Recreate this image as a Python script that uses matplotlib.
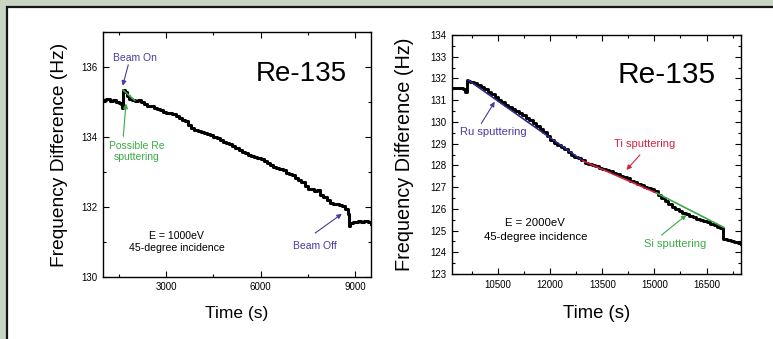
import matplotlib.pyplot as plt
from matplotlib.patches import Rectangle
from matplotlib.ticker import MultipleLocator

# run at 1000 eV
t1 = [1000, 1100, 1200, 1300, 1400, 1500, 1560, 1600, 1620, 1680, 1750, 1820,
      1900, 2000, 2100, 2200, 2300, 2400, 2500, 2600, 2700, 2800, 2900, 3000,
      3100, 3200, 3300, 3400, 3500, 3600, 3700, 3800, 3900, 4000, 4100, 4200,
      4300, 4400, 4500, 4600, 4700, 4800, 4900, 5000, 5100, 5200, 5300, 5400,
      5500, 5600, 5700, 5800, 5900, 6000, 6100, 6200, 6300, 6400, 6500, 6600,
      6700, 6800, 6900, 7000, 7100, 7200, 7300, 7400, 7500, 7600, 7700, 7800,
      7900, 8000, 8100, 8200, 8300, 8400, 8500, 8600, 8700, 8780, 8800, 8850,
      8950, 9100, 9200, 9300, 9400, 9500]
f1 = [135.05, 135.10, 135.02, 135.06, 135.00, 134.98, 134.95, 134.82, 135.35, 135.30, 135.18, 135.10,
      135.05, 135.02, 135.07, 135.00, 134.95, 134.88, 134.90, 134.84, 134.80, 134.78, 134.72, 134.70,
      134.68, 134.66, 134.60, 134.55, 134.50, 134.45, 134.35, 134.25, 134.20, 134.18, 134.15, 134.12,
      134.10, 134.05, 134.00, 133.98, 133.92, 133.85, 133.82, 133.80, 133.75, 133.70, 133.62, 133.58,
      133.55, 133.48, 133.45, 133.42, 133.40, 133.36, 133.30, 133.25, 133.20, 133.15, 133.12, 133.08,
      133.05, 132.98, 132.95, 132.90, 132.84, 132.78, 132.70, 132.60, 132.52, 132.50, 132.45, 132.47,
      132.35, 132.28, 132.20, 132.12, 132.08, 132.08, 132.05, 132.02, 131.95, 131.80, 131.45, 131.55,
      131.58, 131.60, 131.56, 131.60, 131.58, 131.50]
fit1_t = [1620, 2000]
fit1_f = [135.35, 135.05]

# run at 2000 eV
t2 = [9200, 9300, 9400, 9500, 9560, 9600, 9650, 9700, 9800, 9900, 10000, 10100,
      10200, 10300, 10400, 10500, 10600, 10700, 10800, 10900, 11000, 11100, 11200, 11300,
      11400, 11500, 11600, 11700, 11800, 11900, 12000, 12100, 12200, 12300, 12400, 12500,
      12600, 12700, 12800, 12900, 13000, 13100, 13200, 13300, 13400, 13500, 13600, 13700,
      13800, 13900, 14000, 14100, 14200, 14300, 14400, 14500, 14600, 14700, 14800, 14900,
      15000, 15100, 15200, 15300, 15400, 15500, 15600, 15700, 15800, 15900, 16000, 16100,
      16200, 16300, 16400, 16500, 16600, 16700, 16800, 16900, 16960, 16980, 17100, 17200,
      17300, 17400, 17500]
f2 = [131.55, 131.58, 131.55, 131.52, 131.40, 131.95, 131.90, 131.85, 131.78, 131.70, 131.60, 131.50,
      131.40, 131.28, 131.15, 131.02, 130.92, 130.80, 130.70, 130.60, 130.52, 130.40, 130.30, 130.20,
      130.08, 129.95, 129.82, 129.68, 129.52, 129.35, 129.18, 129.05, 128.95, 128.85, 128.75, 128.60,
      128.50, 128.40, 128.35, 128.25, 128.12, 128.05, 128.00, 127.95, 127.90, 127.85, 127.80, 127.72,
      127.65, 127.60, 127.50, 127.45, 127.40, 127.30, 127.22, 127.15, 127.10, 127.02, 126.95, 126.90,
      126.80, 126.65, 126.50, 126.35, 126.22, 126.10, 126.00, 125.90, 125.82, 125.75, 125.68, 125.62,
      125.55, 125.50, 125.45, 125.38, 125.30, 125.25, 125.18, 125.12, 125.05, 124.60, 124.55, 124.52,
      124.48, 124.42, 124.40]
ru_t, ru_f = [9640, 12950], [131.93, 128.20]
ti_t, ti_f = [12950, 15070], [128.20, 126.72]
si_t, si_f = [15070, 16990], [126.72, 125.15]

plt.rcParams['font.family'] = ['Liberation Sans', 'DejaVu Sans']

PURPLE = '#473c9c'
NAVY = '#2c2a8a'
RED = '#d32240'
GREEN = '#3aaa45'

fig = plt.figure(figsize=(7.73, 3.39), dpi=100, facecolor='#c9d5c2')
fig.add_artist(Rectangle((7 / 773, -0.1), 1.2, 1.1 - 7 / 339, transform=fig.transFigure,
                         facecolor='white', edgecolor='#151515', lw=1.6, zorder=-10))


def style_axes(ax, ymaj, ymin, xmaj, xmin):
    ax.xaxis.set_major_locator(MultipleLocator(xmaj))
    ax.xaxis.set_minor_locator(MultipleLocator(xmin))
    ax.yaxis.set_major_locator(MultipleLocator(ymaj))
    ax.yaxis.set_minor_locator(MultipleLocator(ymin))
    ax.tick_params(which='both', direction='in', top=True, right=True,
                   labelsize=7, width=0.8, pad=4)
    ax.tick_params(which='major', length=4)
    ax.tick_params(which='minor', length=2.5)
    for s in ax.spines.values():
        s.set_linewidth(1.0)
    ax.set_facecolor('none')


def arrow(ax, text_xy, tail, tip, text, color, size, ls=1.15):
    ax.annotate('', xy=tip, xytext=tail,
                arrowprops=dict(arrowstyle='-|>', color=color, lw=0.8, mutation_scale=7,
                                shrinkA=0, shrinkB=0))
    ax.text(*text_xy, text, color=color, fontsize=size,
            ha='center', va='center', linespacing=ls)


# left panel
ax1 = fig.add_axes([0.1336, 0.1838, 0.3459, 0.7209])
ax1.step(t1, f1, where='post', color='black', lw=2.2)
ax1.plot(fit1_t, fit1_f, color=GREEN, lw=1.2)
ax1.set_xlim(1000, 9500)
ax1.set_ylim(130, 137)
style_axes(ax1, 2, 1, 3000, 1500)
ax1.set_xlabel('Time (s)', fontsize=12.5)
ax1.set_ylabel('Frequency Difference (Hz)', fontsize=13.8)
ax1.xaxis.set_label_coords(0.5, -0.12)
ax1.yaxis.set_label_coords(-0.132, 0.5)
ax1.text(7290, 135.82, 'Re-135', fontsize=20, ha='center', va='center')
ax1.text(3335, 130.98, 'E = 1000eV\n45-degree incidence', fontsize=7.6,
         ha='center', va='center', linespacing=1.25)
arrow(ax1, (2009, 136.27), (1795, 136.07), (1617, 135.47), 'Beam On', PURPLE, 7.5)
arrow(ax1, (2063, 133.59), (1636, 134.02), (1722, 134.96), 'Possible Re\nsputtering', GREEN, 7.5, 1.1)
arrow(ax1, (7727, 130.88), (7736, 131.25), (8585, 131.8), 'Beam Off', PURPLE, 7.5)

# right panel
ax2 = fig.add_axes([0.5847, 0.1917, 0.3743, 0.705])
ax2.step(t2, f2, where='post', color='black', lw=2.1)
ax2.plot(ru_t, ru_f, color=NAVY, lw=1.2)
ax2.plot(ti_t, ti_f, color=RED, lw=1.2)
ax2.plot(si_t, si_f, color=GREEN, lw=1.2)
ax2.set_xlim(9175, 17500)
ax2.set_ylim(123, 134)
style_axes(ax2, 1, 0.5, 1500, 750)
ax2.set_xlabel('Time (s)', fontsize=13.3)
ax2.set_ylabel('Frequency Difference (Hz)', fontsize=14.3)
ax2.xaxis.set_label_coords(0.5, -0.13)
ax2.yaxis.set_label_coords(-0.131, 0.5)
ax2.text(15347, 132.16, 'Re-135', fontsize=21.5, ha='center', va='center')
ax2.text(11574, 125.02, 'E = 2000eV\n45-degree incidence', fontsize=8.2,
         ha='center', va='center', linespacing=1.55)
arrow(ax2, (10356, 129.55), (10019, 129.93), (10405, 130.93), 'Ru sputtering', PURPLE, 8)
arrow(ax2, (14705, 128.98), (14581, 128.48), (14195, 127.79), 'Ti sputtering', RED, 8)
arrow(ax2, (15606, 124.37), (15203, 124.79), (15923, 125.72), 'Si sputtering', GREEN, 8)

fig.savefig('out.png', dpi=100, facecolor=fig.get_facecolor())
